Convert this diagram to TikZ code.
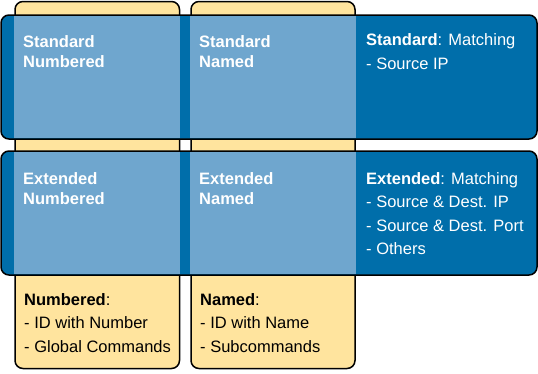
\documentclass[tikz,border=0pt]{standalone}
\usepackage{fontspec}
\setmainfont{Liberation Sans}
\usetikzlibrary{positioning}
\definecolor{acldark}{RGB}{0,110,170}
\definecolor{acllight}{RGB}{111,166,206}
\definecolor{aclyellow}{RGB}{255,228,158}
\tikzstyle{column}=[draw=black, fill=aclyellow, line width=1.5, rounded corners=8]
\tikzstyle{row}=[draw=black, fill=acldark, line width=1.5, rounded corners=8]
\tikzstyle{overlap}=[fill=acllight]
\tikzstyle{label}=[anchor=north west, inner sep=0, align=left, text=white, font=\bfseries\fontsize{16.5}{20}\selectfont]
\tikzstyle{list}=[anchor=north west, inner sep=0, align=left, font=\fontsize{16.5}{23.5}\selectfont]

\begin{document}
\begin{tikzpicture}[x=1pt, y=-1pt]
    %\draw[help lines, step=10] (0,0) grid (538,373) ;
    \useasboundingbox (0,0) rectangle (538,373) ;
    % the two yellow columns
    \draw[column] (15,1.5) rectangle (179.5,368.5) ;
    \draw[column] (191,1.5) rectangle (355,368.5) ;
    % the two blue rows
    \draw[row] (1,15) rectangle (537,139) ;
    \draw[row] (1,151) rectangle (537,275) ;
    \fill[overlap] (14.25,15.75) rectangle (180.25,138.25) ;
    \fill[overlap] (190.25,15.75) rectangle (355.75,138.25) ;
    \fill[overlap] (14.25,151.75) rectangle (180.25,274.25) ;
    \fill[overlap] (190.25,151.75) rectangle (355.75,274.25) ;
    \node[label] (stdnum) at (23,35) {Standard\\Numbered} ;
    \node[label] (stdname) at (199,35) {Standard\\Named} ;
    \node[label] (extnum) at (23,172) {Extended\\Numbered} ;
    \node[label] (extname) at (199,172) {Extended\\Named} ;
    \node[list, text=white] (stdtext) at (366,33.5)
        {\textbf{Standard}: Matching\\- Source IP} ;
    \node[list, text=white] (exttext) at (366,172)
        {\textbf{Extended}: Matching\\- Source \& Dest. IP\\- Source \& Dest. Port\\- Others} ;
    \node[list] (numtext) at (24,293)
        {\textbf{Numbered}:\\- ID with Number\\- Global Commands} ;
    \node[list] (nametext) at (200,293)
        {\textbf{Named}:\\- ID with Name\\- Subcommands} ;
\end{tikzpicture}
\end{document}
